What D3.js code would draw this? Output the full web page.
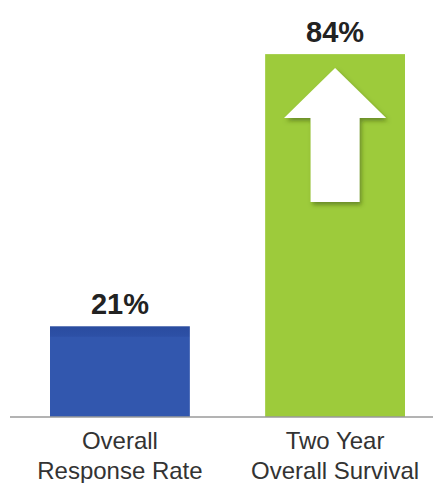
<!DOCTYPE html>
<html>
<head>
<meta charset="utf-8">
<script src="https://cdn.jsdelivr.net/npm/d3@7"></script>
<style>
  html, body { margin: 0; padding: 0; background: #fff; }
  svg { display: block; font-family: "Liberation Sans", Arial, sans-serif; }
</style>
</head>
<body>
<svg id="chart"></svg>
<script>
// data
const categories = ["Overall Response Rate", "Two Year Overall Survival"];
const labelLines = [["Overall", "Response Rate"], ["Two Year", "Overall Survival"]];
const values = [21, 84];
const valueLabels = ["21%", "84%"];
const barColors = ["#3257ae", "#9dcb3b"];

const width = 433, height = 483;
const baseY = 417;

const svg = d3.select("#chart").attr("width", width).attr("height", height);
const defs = svg.append("defs");

const blueGrad = defs.append("linearGradient").attr("id", "blue-grad")
  .attr("x1", 0).attr("y1", 0).attr("x2", 0).attr("y2", 1);
blueGrad.append("stop").attr("offset", "0%").attr("stop-color", "#2a4c9f");
blueGrad.append("stop").attr("offset", "11%").attr("stop-color", "#2d50a6");
blueGrad.append("stop").attr("offset", "12%").attr("stop-color", "#3257ae");
blueGrad.append("stop").attr("offset", "100%").attr("stop-color", "#3257ae");

const shadow = defs.append("filter").attr("id", "arrow-shadow")
  .attr("x", "-20%").attr("y", "-20%").attr("width", "150%").attr("height", "150%");
shadow.append("feDropShadow").attr("dx", 2).attr("dy", 3).attr("stdDeviation", 2)
  .attr("flood-color", "#3d5a10").attr("flood-opacity", 0.55);

const x = d3.scaleBand().domain(categories).range([50, 405]).paddingInner(0.35).paddingOuter(0);
const y = d3.scaleLinear().domain([0, 100]).range([baseY, baseY - 432]);

// bars
svg.append("g").selectAll("rect").data(categories).join("rect")
  .attr("x", d => x(d))
  .attr("y", (d, i) => y(values[i]))
  .attr("width", x.bandwidth())
  .attr("height", (d, i) => y(0) - y(values[i]))
  .attr("fill", (d, i) => i === 0 ? "url(#blue-grad)" : barColors[i]);

// baseline
svg.append("line")
  .attr("x1", 10).attr("x2", width)
  .attr("y1", baseY).attr("y2", baseY)
  .attr("stroke", "#9a9a9a").attr("stroke-width", 1.5);

// value labels
svg.append("g").selectAll("text").data(categories).join("text")
  .attr("x", d => x(d) + x.bandwidth() / 2)
  .attr("y", (d, i) => y(values[i]) - 12)
  .attr("text-anchor", "middle")
  .attr("font-size", 29)
  .attr("font-weight", "bold")
  .attr("fill", "#222")
  .text((d, i) => valueLabels[i]);

// category labels
const cat = svg.append("g").selectAll("text").data(categories).join("text")
  .attr("text-anchor", "middle")
  .attr("font-size", 24)
  .attr("fill", "#333");
cat.selectAll("tspan").data((d, i) => labelLines[i].map(t => ({ t, d }))).join("tspan")
  .attr("x", o => x(o.d) + x.bandwidth() / 2)
  .attr("y", (o, j) => 449 + j * 30)
  .text(o => o.t);

// up arrow inside the survival bar
const bx = x(categories[1]), bw = x.bandwidth(), barTop = y(values[1]);
const cx = bx + bw / 2;
const headHalf = bw * 0.365, shaftHalf = bw * 0.175;
const tipY = barTop + 14, headY = barTop + 64, footY = barTop + 148;
svg.append("path")
  .attr("d", `M${cx},${tipY} L${cx + headHalf},${headY} L${cx + shaftHalf},${headY} L${cx + shaftHalf},${footY}
    L${cx - shaftHalf},${footY} L${cx - shaftHalf},${headY} L${cx - headHalf},${headY} Z`)
  .attr("fill", "#fff")
  .attr("filter", "url(#arrow-shadow)");
</script>
</body>
</html>
